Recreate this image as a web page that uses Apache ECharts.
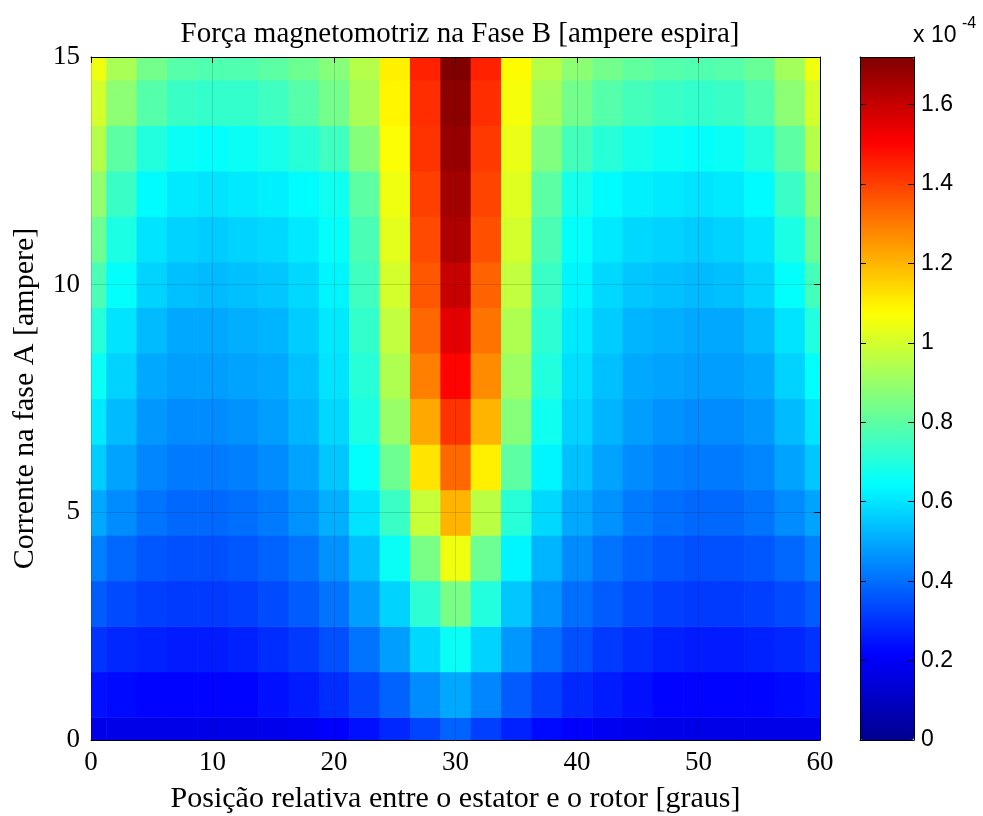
<!DOCTYPE html>
<html>
<head>
<meta charset="utf-8">
<script src="https://cdn.jsdelivr.net/npm/echarts@6/dist/echarts.min.js"></script>
<style>
html, body { margin: 0; padding: 0; background: #fff; }
#chart { width: 983px; height: 816px; }
</style>
</head>
<body>
<div id="chart"></div>
<script>
// posição (graus), corrente (A)
var positionDeg = [0, 2.5, 5, 7.5, 10, 12.5, 15, 17.5, 20, 22.5, 25, 27.5, 30,
                   32.5, 35, 37.5, 40, 42.5, 45, 47.5, 50, 52.5, 55, 57.5, 60];
var currentA = [0, 1, 2, 3, 4, 5, 6, 7, 8, 9, 10, 11, 12, 13, 14, 15];

// força magnetomotriz (x 1e-4), uma linha por corrente (0 A ... 15 A)
var mmfRows = [
  [0.17,0.17,0.17,0.17,0.17,0.17,0.18,0.19,0.21,0.24,0.28,0.33,0.38,0.32,0.27,0.23,0.21,0.19,0.18,0.17,0.17,0.17,0.17,0.17,0.17],
  [0.24,0.23,0.22,0.22,0.22,0.22,0.24,0.26,0.29,0.33,0.38,0.45,0.50,0.44,0.37,0.32,0.28,0.26,0.24,0.22,0.22,0.22,0.22,0.23,0.24],
  [0.30,0.28,0.27,0.26,0.26,0.27,0.29,0.31,0.35,0.41,0.48,0.58,0.66,0.57,0.47,0.40,0.35,0.31,0.29,0.27,0.26,0.26,0.27,0.28,0.30],
  [0.37,0.34,0.32,0.31,0.31,0.32,0.34,0.37,0.41,0.48,0.57,0.72,0.85,0.70,0.55,0.46,0.40,0.37,0.34,0.32,0.31,0.31,0.32,0.34,0.37],
  [0.43,0.39,0.36,0.35,0.35,0.36,0.38,0.41,0.46,0.54,0.66,0.85,1.05,0.83,0.63,0.52,0.45,0.41,0.38,0.36,0.35,0.35,0.36,0.39,0.43],
  [0.50,0.45,0.41,0.39,0.39,0.40,0.42,0.46,0.51,0.60,0.74,0.98,1.20,0.96,0.71,0.58,0.50,0.46,0.42,0.40,0.39,0.39,0.41,0.45,0.49],
  [0.56,0.49,0.44,0.42,0.42,0.43,0.45,0.49,0.55,0.65,0.83,1.12,1.33,1.10,0.80,0.63,0.54,0.49,0.45,0.43,0.42,0.42,0.44,0.49,0.55],
  [0.61,0.53,0.47,0.45,0.45,0.46,0.48,0.52,0.58,0.69,0.90,1.22,1.42,1.20,0.87,0.67,0.57,0.52,0.48,0.46,0.45,0.45,0.47,0.53,0.60],
  [0.66,0.57,0.50,0.48,0.48,0.49,0.50,0.54,0.60,0.71,0.94,1.29,1.50,1.27,0.91,0.70,0.59,0.54,0.50,0.49,0.48,0.48,0.50,0.57,0.65],
  [0.71,0.60,0.53,0.50,0.50,0.51,0.52,0.56,0.61,0.73,0.97,1.33,1.55,1.31,0.94,0.72,0.61,0.56,0.52,0.51,0.50,0.50,0.53,0.60,0.70],
  [0.77,0.65,0.57,0.54,0.53,0.54,0.55,0.58,0.63,0.75,1.00,1.36,1.60,1.34,0.97,0.74,0.63,0.58,0.55,0.54,0.53,0.54,0.57,0.65,0.76],
  [0.83,0.69,0.60,0.57,0.56,0.57,0.58,0.61,0.65,0.77,1.03,1.38,1.64,1.37,1.00,0.77,0.65,0.61,0.58,0.57,0.56,0.57,0.60,0.69,0.82],
  [0.89,0.74,0.64,0.61,0.60,0.61,0.62,0.64,0.67,0.80,1.05,1.40,1.66,1.39,1.02,0.80,0.68,0.64,0.62,0.61,0.60,0.61,0.64,0.74,0.88],
  [0.95,0.80,0.70,0.66,0.65,0.66,0.68,0.71,0.75,0.87,1.07,1.42,1.68,1.41,1.04,0.86,0.76,0.71,0.68,0.66,0.65,0.66,0.70,0.80,0.95],
  [1.00,0.88,0.79,0.74,0.73,0.73,0.75,0.79,0.84,0.93,1.09,1.43,1.70,1.43,1.06,0.92,0.84,0.79,0.76,0.74,0.73,0.74,0.78,0.88,1.00],
  [1.05,0.93,0.84,0.79,0.78,0.78,0.80,0.83,0.87,0.95,1.10,1.45,1.72,1.45,1.08,0.95,0.88,0.84,0.81,0.79,0.78,0.79,0.82,0.92,1.05]
];

var colorMax = 1.72;
var jet = ['#00008f', '#0000ff', '#0080ff', '#00ffff', '#80ff80', '#ffff00', '#ff8000', '#ff0000', '#800000'];

var serif = "'Liberation Serif', 'Times New Roman', serif";
var sans = "'Liberation Sans', Arial, sans-serif";

var cells = [];
for (var j = 0; j < currentA.length; j++) {
  for (var i = 0; i < positionDeg.length; i++) {
    cells.push([positionDeg[i], currentA[j], mmfRows[j][i]]);
  }
}
var stepX = positionDeg[1] - positionDeg[0];
var stepY = currentA[1] - currentA[0];

function renderCell(params, api) {
  var x = api.value(0), y = api.value(1);
  var a = api.coord([x - stepX / 2, y + stepY / 2]);
  var b = api.coord([x + stepX / 2, y - stepY / 2]);
  var shape = echarts.graphic.clipRectByRect(
    { x: a[0], y: a[1], width: b[0] - a[0] + 0.6, height: b[1] - a[1] + 0.6 },
    { x: params.coordSys.x, y: params.coordSys.y, width: params.coordSys.width, height: params.coordSys.height }
  );
  if (!shape) return;
  return { type: 'rect', shape: shape, style: { fill: api.visual('color') } };
}

var chart = echarts.init(document.getElementById('chart'));

var tickIn = { show: true, inside: true, length: 6, lineStyle: { color: '#000' } };
var lineBlack = { show: true, onZero: false, lineStyle: { color: '#000', width: 1 } };

chart.setOption({
  animation: false,
  backgroundColor: '#fff',
  title: {
    text: 'Força magnetomotriz na Fase B [ampere espira]',
    left: 455,
    top: 15,
    textAlign: 'center',
    textStyle: { fontFamily: serif, fontWeight: 'normal', fontSize: 29, color: '#000' }
  },
  graphic: [
    {
      type: 'text', x: 913, y: 36,
      style: { text: 'x 10', fontFamily: sans, fontSize: 23, fill: '#000', verticalAlign: 'middle' }
    },
    {
      type: 'text', x: 962, y: 24,
      style: { text: '-4', fontFamily: sans, fontSize: 16, fill: '#000', verticalAlign: 'middle' }
    }
  ],
  grid: [
    { left: 91, right: 163, top: 57, bottom: 76, outerBoundsMode: 'none', containLabel: false },
    { left: 860, width: 54, top: 57, bottom: 76, outerBoundsMode: 'none', containLabel: false }
  ],
  visualMap: {
    type: 'continuous',
    min: 0,
    max: colorMax,
    dimension: 2,
    seriesIndex: 0,
    calculable: false,
    hoverLink: false,
    inRange: { color: jet },
    left: 860,
    top: 57,
    padding: 0,
    itemWidth: 54,
    itemHeight: 683,
    text: null
  },
  xAxis: [
    {
      type: 'value', gridIndex: 0, position: 'bottom', min: 0, max: 60, interval: 10,
      axisLine: lineBlack, axisTick: tickIn,
      axisLabel: { fontFamily: serif, fontSize: 27, color: '#000', margin: 9 },
      splitLine: { show: false },
      name: 'Posição relativa entre o estator e o rotor [graus]',
      nameLocation: 'middle', nameGap: 44,
      nameTextStyle: { fontFamily: serif, fontSize: 30, color: '#000' }
    },
    {
      type: 'value', gridIndex: 0, position: 'top', min: 0, max: 60, interval: 10, z: 5,
      axisLine: lineBlack, axisTick: tickIn, axisLabel: { show: false },
      splitLine: { show: true, lineStyle: { color: 'rgba(0,0,0,0.14)', width: 1 } }
    },
    {
      type: 'value', gridIndex: 1, position: 'bottom', min: 0, max: 1, z: 5,
      axisLine: lineBlack, axisTick: { show: false }, axisLabel: { show: false }, splitLine: { show: false }
    },
    {
      type: 'value', gridIndex: 1, position: 'top', min: 0, max: 1, z: 5,
      axisLine: lineBlack, axisTick: { show: false }, axisLabel: { show: false }, splitLine: { show: false }
    }
  ],
  yAxis: [
    {
      type: 'value', gridIndex: 0, position: 'left', min: 0, max: 15, interval: 5,
      axisLine: lineBlack, axisTick: tickIn,
      axisLabel: { fontFamily: serif, fontSize: 27, color: '#000', margin: 11 },
      splitLine: { show: false },
      name: 'Corrente na fase A [ampere]',
      nameLocation: 'middle', nameGap: 51,
      nameTextStyle: { fontFamily: serif, fontSize: 30, color: '#000' }
    },
    {
      type: 'value', gridIndex: 0, position: 'right', min: 0, max: 15, interval: 5, z: 5,
      axisLine: lineBlack, axisTick: tickIn, axisLabel: { show: false },
      splitLine: { show: true, lineStyle: { color: 'rgba(0,0,0,0.14)', width: 1 } }
    },
    {
      type: 'value', gridIndex: 1, position: 'left', min: 0, max: colorMax, interval: 0.2, z: 5,
      axisLine: lineBlack, axisTick: tickIn, axisLabel: { show: false }, splitLine: { show: false }
    },
    {
      type: 'value', gridIndex: 1, position: 'right', min: 0, max: colorMax, interval: 0.2, z: 5,
      axisLine: lineBlack, axisTick: tickIn,
      axisLabel: {
        fontFamily: sans, fontSize: 23, color: '#000', margin: 7, showMaxLabel: false,
        formatter: function (v) { return String(Math.round(v * 10) / 10); }
      },
      splitLine: { show: false }
    }
  ],
  series: [{
    type: 'custom',
    xAxisIndex: 0,
    yAxisIndex: 0,
    renderItem: renderCell,
    clip: true,
    silent: true,
    encode: { x: 0, y: 1 },
    data: cells
  }]
});
</script>
</body>
</html>
